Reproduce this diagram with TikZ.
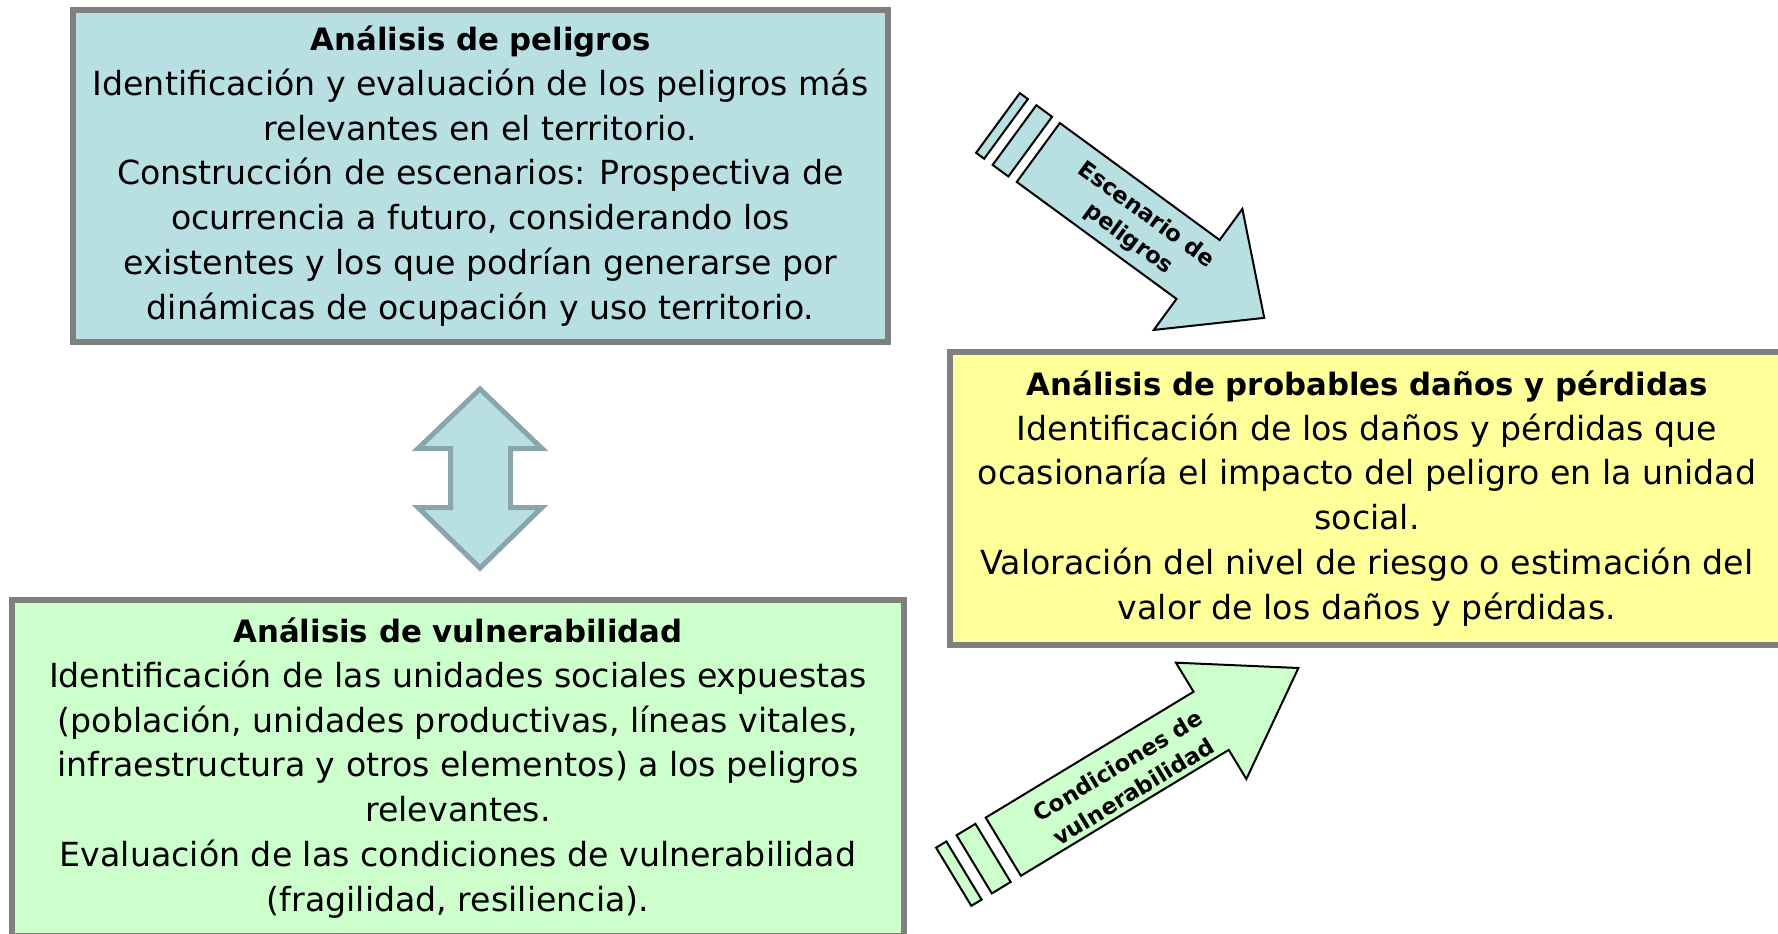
\documentclass[tikz,border=0pt]{standalone}
\usepackage{fontspec}
\setmainfont{DejaVu Sans}
\usetikzlibrary{positioning}
\definecolor{hazardblue}{HTML}{B8DFE2}
\definecolor{lossyellow}{HTML}{FFFF99}
\definecolor{vulngreen}{HTML}{CCFFCC}
\definecolor{framegray}{HTML}{808080}
\definecolor{linkedge}{HTML}{8AA6A8}
\newcommand{\boxtitle}[1]{{\bfseries\fontsize{15.4}{22.4}\selectfont #1}}

\begin{document}
\begin{tikzpicture}[x=0.5pt, y=-0.5pt,
box/.style={draw=framegray, line width=3pt, inner sep=0pt, align=center, font=\fontsize{16.6}{22.4}\selectfont},
blockarrow/.style={draw=black, line width=1pt},
tag/.style={align=center, inner sep=0pt, font=\bfseries\fontsize{11.3}{15}\selectfont}
]
\useasboundingbox (0,0) rectangle (1778,933);
\clip (0,0) rectangle (1778,933);
%Boxes
\node[box, fill=hazardblue, minimum width=407.5pt, minimum height=166pt] (peligros) at (480.5,176)
  {\boxtitle{Análisis de peligros}\\
   Identificación y evaluación de los peligros más\\
   relevantes en el territorio.\\
   Construcción de escenarios: Prospectiva de\\
   ocurrencia a futuro, considerando los\\
   existentes y los que podrían generarse por\\
   dinámicas de ocupación y uso territorio.};
\node[box, fill=lossyellow, minimum width=417pt, minimum height=146.5pt] (danos) at (1367,498.5)
  {\boxtitle{Análisis de probables daños y pérdidas}\\
   Identificación de los daños y pérdidas que\\
   ocasionaría el impacto del peligro en la unidad\\
   social.\\
   Valoración del nivel de riesgo o estimación del\\
   valor de los daños y pérdidas.};
\node[box, fill=vulngreen, minimum width=446pt, minimum height=168pt] (vulnerab) at (458,768)
  {\boxtitle{Análisis de vulnerabilidad}\\
   Identificación de las unidades sociales expuestas\\
   (población, unidades productivas, líneas vitales,\\
   infraestructura y otros elementos) a los peligros\\
   relevantes.\\
   Evaluación de las condiciones de vulnerabilidad\\
   (fragilidad, resiliencia).};
%Double arrow between hazard and vulnerability
\draw[draw=linkedge, fill=hazardblue, line width=2.5pt] (480,389) -- (418,448.5) -- (450.5,448.5) -- (450.5,507.5)
  -- (418,507.5) -- (480,568) -- (542,507.5) -- (510.5,507.5) -- (510.5,448.5) -- (542,448.5) -- cycle;
%Scenario arrow
\begin{scope}[shift={(1038.3,152.5)}, rotate=-36.2]
\draw[blockarrow, fill=hazardblue] (0,-36.5) -- (198,-36.5) -- (198,-75) -- (280,0) -- (198,75) -- (198,36.5) -- (0,36.5) -- cycle;
\draw[blockarrow, fill=hazardblue] (-29.5,-37) rectangle (-10,37);
\draw[blockarrow, fill=hazardblue] (-50,-37) rectangle (-40,37);
\node[tag, rotate=-36.2] (escenario) at (124,2) {Escenario de\\peligros};
\end{scope}
%Vulnerability arrow
\begin{scope}[shift={(1003.3,846.7)}, rotate=31.2]
\draw[blockarrow, fill=vulngreen] (0,-34) -- (243,-34) -- (243,-68) -- (345,0) -- (243,68) -- (243,34) -- (0,34) -- cycle;
\draw[blockarrow, fill=vulngreen] (-34,-34) rectangle (-12,34);
\draw[blockarrow, fill=vulngreen] (-58,-34) rectangle (-46,34);
\node[tag, rotate=31.2] (condiciones) at (140,5) {Condiciones de\\vulnerabilidad};
\end{scope}
\end{tikzpicture}
\end{document}
